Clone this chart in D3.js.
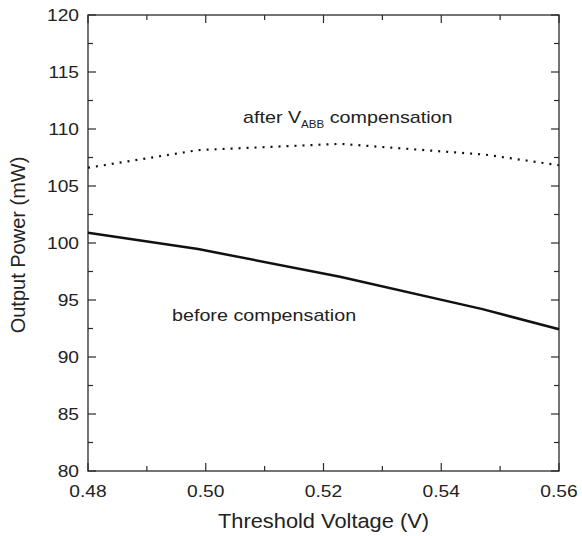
<!DOCTYPE html>
<html>
<head>
<meta charset="utf-8">
<script src="https://cdn.jsdelivr.net/npm/d3@7"></script>
<style>
  body { margin: 0; background: #fff; }
  text { font-family: "Liberation Sans", Arial, Helvetica, sans-serif; fill: #222; }
</style>
</head>
<body>
<svg id="chart" width="582" height="536"></svg>
<script>
// Output power versus threshold voltage
const voltageBefore = [0.48, 0.4987, 0.5228, 0.547, 0.56];
const powerBefore   = [100.9, 99.47, 97.04, 94.2, 92.43];
const voltageAfter  = [0.48, 0.4987, 0.5228, 0.5475, 0.56];
const powerAfter    = [106.6, 108.15, 108.7, 107.75, 106.82];

const xTickValues = [0.48, 0.50, 0.52, 0.54, 0.56];
const xMinorValues = [0.49, 0.51, 0.53, 0.55];
const yTickValues = [80, 85, 90, 95, 100, 105, 110, 115, 120];
const yMinorValues = [82.5, 87.5, 92.5, 97.5, 102.5, 107.5, 112.5, 117.5];

const svg = d3.select("#chart");
const plotL = 88, plotR = 559, plotT = 15, plotB = 471;

const x = d3.scaleLinear().domain([0.48, 0.56]).range([plotL, plotR]);
const y = d3.scaleLinear().domain([80, 120]).range([plotB, plotT]);

const axisColor = "#2a2a2a";
const majorLen = 8, minorLen = 5;
const sx = 1.13; // glyphs are set slightly wide

// frame
svg.append("rect")
  .attr("x", plotL).attr("y", plotT)
  .attr("width", plotR - plotL).attr("height", plotB - plotT)
  .attr("fill", "none").attr("stroke", axisColor).attr("stroke-width", 1.3);

// inward ticks on all four sides
function vTicks(vals, len) {
  vals.forEach(v => {
    svg.append("line").attr("x1", x(v)).attr("x2", x(v))
      .attr("y1", plotB).attr("y2", plotB - len)
      .attr("stroke", axisColor).attr("stroke-width", 1.2);
    svg.append("line").attr("x1", x(v)).attr("x2", x(v))
      .attr("y1", plotT).attr("y2", plotT + len)
      .attr("stroke", axisColor).attr("stroke-width", 1.2);
  });
}
function hTicks(vals, len) {
  vals.forEach(v => {
    svg.append("line").attr("y1", y(v)).attr("y2", y(v))
      .attr("x1", plotL).attr("x2", plotL + len)
      .attr("stroke", axisColor).attr("stroke-width", 1.2);
    svg.append("line").attr("y1", y(v)).attr("y2", y(v))
      .attr("x1", plotR).attr("x2", plotR - len)
      .attr("stroke", axisColor).attr("stroke-width", 1.2);
  });
}
vTicks(xTickValues, majorLen);
vTicks(xMinorValues, minorLen);
hTicks(yTickValues, majorLen);
hTicks(yMinorValues, minorLen);

// tick labels
const fmtX = d3.format(".2f");
xTickValues.forEach(v => {
  svg.append("g").attr("transform", `translate(${x(v)},497)`)
    .append("text").attr("transform", `scale(${sx},1)`)
    .attr("text-anchor", "middle").attr("font-size", 17).text(fmtX(v));
});
yTickValues.forEach(v => {
  svg.append("g").attr("transform", `translate(79,${y(v) + 6})`)
    .append("text").attr("transform", `scale(${sx},1)`)
    .attr("text-anchor", "end").attr("font-size", 17).text(v);
});

// axis titles
svg.append("g").attr("transform", `translate(${(plotL + plotR) / 2},528)`)
  .append("text").attr("transform", "scale(1.12,1)")
  .attr("text-anchor", "middle").attr("font-size", 19.5)
  .text("Threshold Voltage (V)");

svg.append("g").attr("transform", `translate(25,${(plotT + plotB) / 2 + 2}) rotate(-90)`)
  .append("text")
  .attr("text-anchor", "middle").attr("font-size", 20)
  .text("Output Power (mW)");

// curves
const line = d3.line().x(d => x(d[0])).y(d => y(d[1]));

svg.append("path")
  .datum(d3.zip(voltageBefore, powerBefore))
  .attr("d", line)
  .attr("fill", "none").attr("stroke", "#111").attr("stroke-width", 2.5);

svg.append("path")
  .datum(d3.zip(voltageAfter, powerAfter))
  .attr("d", line)
  .attr("fill", "none").attr("stroke", "#111").attr("stroke-width", 2.2)
  .attr("stroke-dasharray", "2,6");

// annotations
const a1 = svg.append("g").attr("transform", "translate(243,123)")
  .append("text").attr("transform", "scale(1.16,1)").attr("font-size", 17);
a1.append("tspan").text("after V");
a1.append("tspan").attr("font-size", 10).attr("dy", 5).text("ABB");
a1.append("tspan").attr("dy", -5).text(" compensation");

svg.append("g").attr("transform", "translate(172,321)")
  .append("text").attr("transform", "scale(1.16,1)").attr("font-size", 17)
  .text("before compensation");
</script>
</body>
</html>
